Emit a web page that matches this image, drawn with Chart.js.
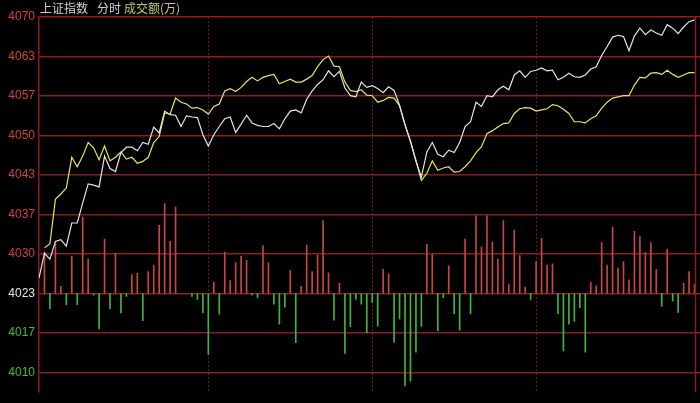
<!DOCTYPE html>
<html>
<head>
<meta charset="utf-8">
<script src="https://cdn.jsdelivr.net/npm/chart.js@4"></script>
<style>
html, body { margin: 0; padding: 0; background: #000; }
</style>
</head>
<body>
<canvas id="fenshi" width="700" height="403"></canvas>
<script>
// 上证指数 分时, one point every 2 minutes
const prevClose = 4023.3;

const tickValues = [4069.99, 4063.32, 4056.65, 4049.98, 4043.31, 4036.64, 4029.97, 4023.3, 4016.63, 4009.96];
const tickLabels = ['4070', '4063', '4057', '4050', '4043', '4037', '4030', '4023', '4017', '4010'];

const indexLine = [
  4025.9, 4030.1, 4029.1, 4032.1, 4032.4, 4031.3, 4035.2, 4035.2, 4038.6, 4041.8,
  4041.6, 4041.3, 4046.5, 4044.4, 4043.9, 4047.1, 4048.0, 4048.0, 4047.4, 4048.8,
  4048.5, 4051.4, 4050.4, 4054.1, 4053.5, 4053.4, 4051.5, 4053.3, 4053.1, 4053.0,
  4050.1, 4048.2, 4050.1, 4051.5, 4052.8, 4053.1, 4050.5, 4051.9, 4053.4, 4052.1,
  4051.7, 4051.5, 4051.5, 4052.0, 4051.1, 4052.8, 4054.1, 4054.3, 4053.8, 4056.1,
  4057.5, 4058.6, 4059.4, 4060.9, 4059.9, 4060.8, 4058.0, 4056.7, 4056.5, 4059.0,
  4058.1, 4058.4, 4057.9, 4057.2, 4058.2, 4057.6, 4055.1, 4051.8, 4049.0, 4045.6,
  4043.0, 4047.2, 4048.8, 4046.8, 4046.4, 4047.5, 4047.1, 4048.8, 4051.5, 4052.3,
  4055.6, 4054.9, 4056.7, 4056.5, 4057.7, 4058.3, 4057.7, 4060.2, 4060.9, 4059.8,
  4060.8, 4061.0, 4061.4, 4060.9, 4061.0, 4059.4, 4059.8, 4060.5, 4059.9, 4059.8,
  4060.2, 4061.2, 4061.6, 4063.5, 4065.0, 4066.6, 4066.9, 4066.7, 4064.3, 4066.8,
  4068.1, 4067.0, 4067.8, 4067.3, 4066.9, 4068.7, 4068.1, 4067.2, 4068.3, 4069.2,
  4069.5
];

const leadLine = [
  null,   4031.0, 4031.7, 4039.2, 4040.1, 4041.1, 4046.3, 4044.7, 4046.5, 4048.8,
  4047.9, 4045.9, 4048.2, 4045.7, 4046.3, 4047.2, 4046.0, 4046.3, 4045.3, 4045.6,
  4046.3, 4048.8, 4049.8, 4053.8, 4053.6, 4056.3, 4055.6, 4055.3, 4054.6, 4054.7,
  4054.3, 4053.6, 4054.9, 4055.3, 4057.5, 4057.9, 4057.4, 4058.1, 4059.1, 4059.8,
  4059.2, 4059.8, 4060.1, 4060.3, 4058.7, 4059.1, 4059.5, 4059.0, 4059.0, 4059.5,
  4060.1, 4061.6, 4062.8, 4063.4, 4061.7, 4061.6, 4059.0, 4057.6, 4057.4, 4057.7,
  4056.8, 4056.7, 4055.6, 4055.9, 4056.4, 4056.3, 4055.0, 4051.8, 4049.0, 4045.8,
  4042.4, 4043.6, 4045.7, 4044.1, 4044.5, 4044.7, 4043.8, 4043.9, 4044.7, 4045.7,
  4047.1, 4048.1, 4050.3, 4050.8, 4051.4, 4052.0, 4052.1, 4053.7, 4054.5, 4054.7,
  4054.6, 4054.1, 4054.3, 4054.5, 4055.2, 4055.0, 4054.4, 4053.7, 4052.3, 4052.3,
  4052.1, 4052.8, 4053.3, 4054.6, 4055.6, 4056.3, 4056.5, 4056.7, 4056.7, 4058.5,
  4059.8, 4059.7, 4060.5, 4060.6, 4060.3, 4061.0, 4060.3, 4059.8, 4060.2, 4060.6,
  4060.6
];

// red/green bars, in index points above (+) or below (-) the previous close
const breadth = [
  null, 7.0, -2.6, 8.6, 1.2, -1.9, 6.3, -1.9, 12.9, 5.8,
  -0.3, -6.0, 9.2, -2.6, 6.8, -3.3, -0.5, 3.2, 3.4, -4.6,
  3.7, 4.8, 11.5, 15.2, 8.8, 14.6, null, null, -0.5, -1.0,
  -3.3, -10.3, 1.9, -3.5, 7.0, 2.2, 5.2, 6.3, 5.6, -0.3,
  -0.7, 8.1, 5.2, -1.8, -5.2, -2.3, 3.9, -8.3, 1.2, 8.2,
  3.7, 6.5, 12.3, 3.5, -4.5, 1.7, -10.1, -5.6, -1.0, -1.8,
  -6.6, -1.5, -5.5, 4.1, 3.3, -8.2, -4.3, -15.6, -14.8, -9.9,
  -5.5, 8.3, 6.6, -6.3, -0.7, 4.7, -3.4, -6.2, 9.2, -3.4,
  13.1, 7.9, 13.1, 8.7, 5.8, 12.3, 1.5, 10.7, 6.4, 1.1,
  -1.0, 5.4, 9.3, 4.8, 5.0, -3.4, -9.7, -5.2, -4.7, -2.4,
  -9.9, 1.9, 1.3, 8.6, 4.8, 11.2, 4.3, 5.4, 2.3, 10.5,
  9.6, 6.9, 8.6, 4.1, -2.2, 7.5, -1.3, -3.2, 1.7, 3.7,
  1.5
];

const minutes = indexLine.map((v, i) => i * 2 - 2); // x position in minutes

const gridRed = '#8c1d1d';

const fenshiDecor = {
  id: 'fenshiDecor',
  beforeDraw(chart) {
    const { ctx } = chart;
    ctx.save();
    ctx.fillStyle = '#000';
    ctx.fillRect(0, 0, chart.width, chart.height);
    ctx.restore();
  },
  afterDraw(chart) {
    const { ctx, chartArea, scales } = chart;
    ctx.save();
    // titulo
    ctx.font = '12px "Noto Sans CJK SC", sans-serif';
    ctx.textBaseline = 'middle';
    ctx.fillStyle = '#d2d2d2';
    ctx.fillText('上证指数', 40, 8);
    ctx.fillText('分时', 97, 8);
    ctx.fillStyle = '#c8c86a';
    ctx.fillText('成交额(万)', 124, 8);
    // current-time line at the last point
    const xLast = Math.round(scales.x.getPixelForValue(minutes[minutes.length - 1])) + 0.5;
    ctx.strokeStyle = gridRed;
    ctx.lineWidth = 1.5;
    ctx.beginPath();
    ctx.moveTo(xLast, chartArea.top);
    ctx.lineTo(xLast, chartArea.bottom);
    ctx.stroke();
    ctx.restore();
  }
};

new Chart(document.querySelector('#fenshi'), {
  type: 'line',
  data: {
    datasets: [
      {
        type: 'line',
        label: 'index',
        data: indexLine.map((v, i) => ({ x: minutes[i], y: v })),
        borderColor: '#e4e4e4',
        borderWidth: 1.2,
        pointRadius: 0,
        tension: 0,
        order: 1
      },
      {
        type: 'line',
        label: 'lead',
        data: leadLine.map((v, i) => ({ x: minutes[i], y: v })),
        borderColor: '#e6e65c',
        borderWidth: 1.2,
        pointRadius: 0,
        tension: 0,
        order: 2
      },
      {
        type: 'bar',
        label: 'breadth',
        data: breadth.map((d, i) => ({ x: minutes[i], y: d === null ? null : [prevClose, prevClose + d] })),
        backgroundColor: breadth.map(d => (d !== null && d > 0) ? '#c84646' : '#3fb53f'),
        barThickness: 1,
        order: 3
      }
    ]
  },
  options: {
    responsive: false,
    animation: false,
    layout: { padding: { top: 17, right: 0, bottom: 0, left: 0 } },
    plugins: {
      legend: { display: false },
      tooltip: { enabled: false }
    },
    scales: {
      x: {
        type: 'linear',
        min: -2,
        max: 240,
        offset: false,
        afterBuildTicks: scale => { scale.ticks = [60, 120, 180].map(v => ({ value: v })); },
        ticks: { display: false },
        grid: { offset: false, color: '#7a1818', lineWidth: 1, drawTicks: false, tickBorderDash: [2, 2] },
        border: { display: false, dash: [2, 2] }
      },
      y: {
        min: 4006.7,
        max: 4069.99,
        afterBuildTicks: scale => { scale.ticks = tickValues.map(v => ({ value: v })); },
        afterFit: scale => { scale.width = 39; },
        ticks: {
          padding: 4,
          font: { family: '"Liberation Sans", Arial, sans-serif', size: 12 },
          color: ctx => {
            const v = ctx.tick.value;
            if (v > prevClose + 0.1) return '#d24040';
            if (v < prevClose - 0.1) return '#3cc03c';
            return '#e6e6e6';
          },
          callback: (value, i) => tickLabels[i]
        },
        grid: { color: gridRed, lineWidth: 1.5, drawTicks: false },
        border: { display: true, color: gridRed, width: 1.5 }
      }
    }
  },
  plugins: [fenshiDecor]
});
</script>
</body>
</html>
